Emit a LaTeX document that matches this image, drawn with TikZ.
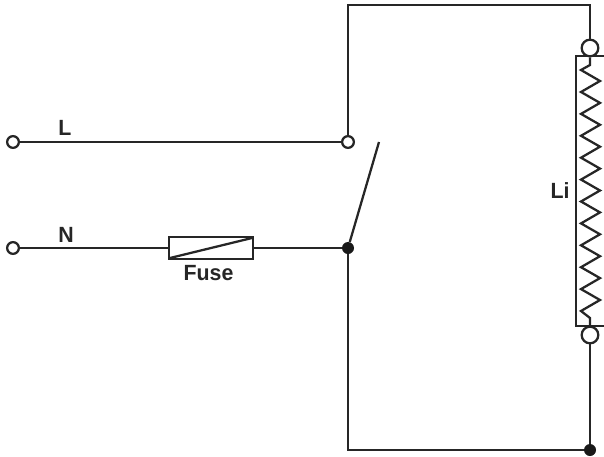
\documentclass[tikz,border=0pt]{standalone}
\usepackage{fontspec}
\setmainfont{Liberation Sans}
\usetikzlibrary{positioning}
\tikzset{
    wire/.style={line width=1.7pt, draw=black!85},
    term/.style={circle, draw=black!85, line width=1.7pt, fill=white, inner sep=0pt, minimum size=8.8pt},
    bigterm/.style={term, minimum size=12.5pt},
    dot/.style={circle, fill=black!90, inner sep=0pt, minimum size=9pt},
    lbl/.style={font=\bfseries\fontsize{16.5}{16.5}\selectfont, text=black!85, inner sep=0pt, xscale=0.97},
}
\begin{document}
\begin{tikzpicture}[x=0.75pt, y=-0.75pt]
        \useasboundingbox (0,0) rectangle (604,457);
        \coordinate (top1) at (348,5);
        \coordinate (top2) at (590,5);
        \coordinate (bladeEnd) at (379,142);
        \coordinate (fuseA) at (170,258);
        \coordinate (fuseB) at (252,238);

        % wires first, terminals go on top
        \node[term] (lIn) at (13,142) {};
        \node[term] (nIn) at (13,248) {};
        \node[term] (lSw) at (348,142) {};
        \node[dot] (nSw) at (348,248) {};
        \node[bigterm] (liTop) at (590,48) {};
        \node[bigterm] (liBot) at (590,335) {};
        \node[dot] (botDot) at (590,450) {};
        \node[draw=black!85, line width=1.7pt, minimum width=63pt, minimum height=16pt, inner sep=0pt] (fuse) at (211,248) {};

        \draw[wire] (lIn) -- (lSw);
        \draw[wire] (nIn) -- (fuse);
        \draw[wire] (fuse) -- (nSw);
        \draw[wire] (nSw) -- (bladeEnd);
        \draw[wire] (fuseA) -- (fuseB);
        \draw[wire] (lSw) -- (top1) -- (top2) -- (liTop);
        \draw[wire] (nSw) |- (botDot);
        \draw[wire] (liBot) -- (botDot);

        % resistor body, cut off by the page edge
        \draw[wire] (604,56) -- (576,56) -- (576,326) -- (604,326);
        \draw[wire, line join=miter] (liTop.south) -- (590,65) -- (581,70)
            \foreach \i in {0,...,10} { -- (600,81+\i*21.9) -- (581,92+\i*21.9) }
            -- (590,318) -- (liBot.north);

        \node[lbl] (lLabel) at (65,128) {L};
        \node[lbl] (nLabel) at (66,235) {N};
        \node[lbl] (fuseLabel) at (208.5,273) {Fuse};
        \node[lbl] (liLabel) at (560,190.5) {Li};
\end{tikzpicture}
\end{document}
